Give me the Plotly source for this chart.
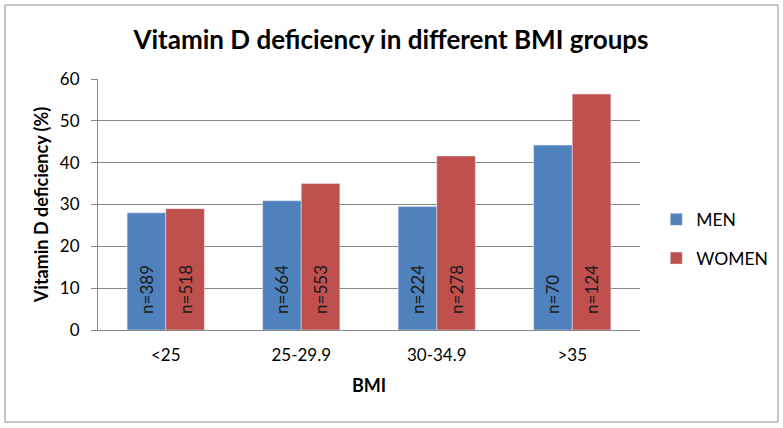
import plotly.graph_objects as go

categories = ["<25", "25-29.9", "30-34.9", ">35"]
men = [28.0, 30.9, 29.5, 44.2]
women = [29.0, 35.0, 41.6, 56.4]
men_n = ["n=389", "n=664", "n=224", "n=70"]
women_n = ["n=518", "n=553", "n=278", "n=124"]

FONT = "Lato"
L, R, T, B = 98, 143, 79, 98
W, H = 783, 428
PAD = "\u00a0\u00a0\u00a0"

fig = go.Figure()
fig.add_trace(go.Bar(x=categories, y=men, name="MEN", marker_color="#4F81BD", legendgroup="m",
                     text=[PAD + t for t in men_n], textposition="inside", insidetextanchor="start",
                     textangle=-90, textfont=dict(size=17, color="#1a1a1a", family=FONT)))
fig.add_trace(go.Bar(x=categories, y=women, name="WOMEN", marker_color="#C0504D", legendgroup="w",
                     text=[PAD + t for t in women_n], textposition="inside", insidetextanchor="start",
                     textangle=-90, textfont=dict(size=17, color="#1a1a1a", family=FONT)))

pw = W - L - R
ph = H - T - B
fig.add_shape(type="rect", xref="paper", yref="paper",
              x0=(5 - L) / pw, x1=(778 - L) / pw,
              y0=-(422 - (H - B)) / ph, y1=((H - B) - 5) / ph,
              line=dict(color="#8c8c8c", width=1), fillcolor="rgba(0,0,0,0)")

fig.update_layout(
    width=W, height=H,
    margin=dict(l=L, r=R, t=T, b=B, autoexpand=False),
    paper_bgcolor="white", plot_bgcolor="white",
    barmode="group", bargap=0.43, bargroupgap=0,
    title=dict(text="<b>Vitamin D deficiency in different BMI groups</b>",
               x=391 / W, xanchor="center", y=1 - 40 / H, yanchor="middle",
               font=dict(size=26, family=FONT, color="black")),
    font=dict(family=FONT, color="black"),
    legend=dict(x=1.03, y=0.512, xanchor="left", yanchor="top",
                font=dict(size=17.5, family=FONT), itemwidth=30,
                tracegroupgap=13, bgcolor="rgba(0,0,0,0)"),
    uniformtext=dict(minsize=10, mode="show"),
)
fig.update_xaxes(showline=True, linecolor="#868686", linewidth=1,
                 tickfont=dict(size=17, family=FONT), ticks="", ticklabelstandoff=10,
                 title=dict(text="<b>BMI</b>", font=dict(size=18, family=FONT), standoff=14))
fig.update_yaxes(range=[0, 60], dtick=10, showgrid=True, gridcolor="#868686", gridwidth=1,
                 showline=True, linecolor="#868686", linewidth=1,
                 ticks="outside", ticklen=6, tickcolor="#868686", ticklabelstandoff=8,
                 tickfont=dict(size=17, family=FONT), zeroline=False,
                 title=dict(text="<b>Vitamin D deficiency (%)</b>", font=dict(size=18, family=FONT), standoff=6))

fig.write_html("out.html", config={"displayModeBar": False},
               post_script="document.body.style.margin='0';document.body.style.padding='0';")
